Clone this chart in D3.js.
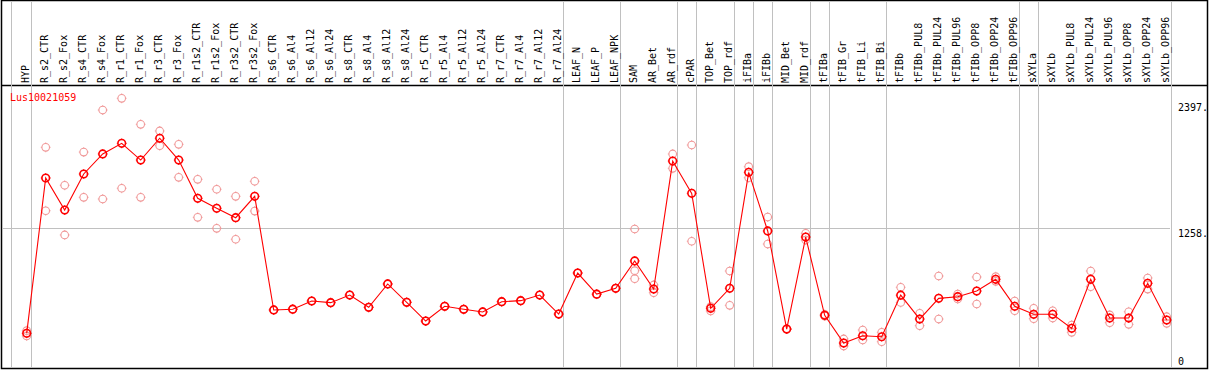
<!DOCTYPE html>
<html><head><meta charset="utf-8">
<script src="https://cdn.jsdelivr.net/npm/d3@7"></script>
<style>body{margin:0;background:#fff}svg{display:block}text{font-family:"DejaVu Sans Mono",monospace;}</style>
</head><body><svg id="c" width="1209" height="370"></svg>
<script>
const title = "Lus10021059";
const categories = ["HYP","R_s2_CTR","R_s2_Fox","R_s4_CTR","R_s4_Fox","R_r1_CTR","R_r1_Fox","R_r3_CTR","R_r3_Fox","R_r1s2_CTR","R_r1s2_Fox","R_r3s2_CTR","R_r3s2_Fox","R_s6_CTR","R_s6_Al4","R_s6_Al12","R_s6_Al24","R_s8_CTR","R_s8_Al4","R_s8_Al12","R_s8_Al24","R_r5_CTR","R_r5_Al4","R_r5_Al12","R_r5_Al24","R_r7_CTR","R_r7_Al4","R_r7_Al12","R_r7_Al24","LEAF_N","LEAF_P","LEAF_NPK","SAM","AR_Bet","AR_rdf","cPAR","TOP_Bet","TOP_rdf","iFIBa","iFIBb","MID_Bet","MID_rdf","tFIBa","tFIB_Gr","tFIB_Li","tFIB_Bi","tFIBb","tFIBb_PUL8","tFIBb_PUL24","tFIBb_PUL96","tFIBb_OPP8","tFIBb_OPP24","tFIBb_OPP96","sXYLa","sXYLb","sXYLb_PUL8","sXYLb_PUL24","sXYLb_PUL96","sXYLb_OPP8","sXYLb_OPP24","sXYLb_OPP96"];
const means = [309,1713,1423,1749,1930,2026,1875,2072,1875,1529,1439,1354,1547,520,527,601,586,655,544,755,589,420,553,526,502,595,604,655,483,854,663,716,963,709,1866,1574,535,716,1764,1234,347,1179,472,221,287,278,654,438,625,640,691,797,553,481,481,354,797,447,447,761,429];
const reps = [[333,285],[1990,1417],[1647,1198],[1947,1538],[2327,1523],[2433,1620],[2198,1538],[2138,2005],[2017,1719],[1701,1357],[1611,1258],[1547,1159],[1683,1414],[520,520],[527,527],[601,601],[586,586],[655,655],[544,544],[755,755],[589,589],[420,420],[553,553],[526,526],[502,502],[595,595],[604,604],[655,655],[483,483],[854,854],[663,663],[716,716],[1252,875,803],[746,676],[1930,1800],[2011,1141],[550,511],[872,562],[1815,1715],[1360,1116],[347,347],[1213,1152],[480,465],[258,194],[339,249],[318,233],[725,588],[490,378],[827,438],[664,619],[818,574],[821,779],[601,513],[535,441],[513,447],[384,318],[872,730],[475,405],[504,390],[809,709],[459,399]];
const separatorsAfter = ["HYP","R_r7_Al24","LEAF_NPK","AR_rdf","cPAR","TOP_rdf","iFIBa","iFIBb","MID_rdf","tFIBa","tFIB_Bi","tFIBb_OPP96","sXYLa","sXYLb_OPP96"];
const yTicks = [0,1258,2397];
const yTickLabels = ["0","1258.","2397."];
const gridTicks = [1258];

const svg = d3.select("#c");
const x = d3.scalePoint().domain(categories).range([26.7, 26.7 + 19*60]);
const y = d3.scaleLinear().domain([0, 2397]).range([367.5, 102.3]);

// frame
svg.append("rect").attr("x",1.5).attr("y",0.5).attr("width",1206).attr("height",368).attr("fill","none").attr("stroke","#000").attr("stroke-width",1.5);
svg.append("line").attr("x1",1).attr("x2",1208).attr("y1",85.5).attr("y2",85.5).attr("stroke","#000").attr("stroke-width",1.5);

// gridlines
svg.selectAll(".grid").data(gridTicks).enter().append("line")
  .attr("x1",2).attr("x2",1170).attr("y1",d=>Math.round(y(d))+0.5).attr("y2",d=>Math.round(y(d))+0.5)
  .attr("stroke","#c0c0c0").attr("stroke-width",1);

// vertical separators
const sepX = [x(categories[0]) - 16].concat(separatorsAfter.map(c => x(c) + 4));
svg.selectAll(".sep").data(sepX).enter().append("line")
  .attr("x1",d=>Math.round(d)+0.5).attr("x2",d=>Math.round(d)+0.5).attr("y1",1).attr("y2",368)
  .attr("stroke","#c0c0c0").attr("stroke-width",1);

// category labels
svg.selectAll(".lab").data(categories).enter().append("text")
  .attr("transform",d=>`translate(${x(d)+2.5},83) rotate(-90)`)
  .attr("font-size","10px").attr("fill","#000").text(d=>d);

// y tick labels
svg.selectAll(".yl").data(yTicks).enter().append("text")
  .attr("x",1178).attr("y",(d,i)=> d===0 ? 365 : y(d)+8.5)
  .attr("font-size","10px").attr("fill","#000").text((d,i)=>yTickLabels[i]);

// title
svg.append("text").attr("x",10).attr("y",100.5).attr("font-size","10px").attr("fill","#ff0000").text(title);

function marker(g, cx, cy, color, sw){
  g.append("circle").attr("cx",cx).attr("cy",cy).attr("r",3.8).attr("fill","none").attr("stroke",color).attr("stroke-width",sw);
  const t = [[0,-1],[0,1],[-1,0],[1,0]];
  t.forEach(([dx,dy])=>{
    g.append("line").attr("x1",cx+dx*3.8).attr("y1",cy+dy*3.8).attr("x2",cx+dx*4.9).attr("y2",cy+dy*4.9)
      .attr("stroke",color).attr("stroke-width",0.9);
  });
}

// replicates
const gR = svg.append("g");
reps.forEach((arr,i)=>{
  arr.forEach(v=> marker(gR, x(categories[i]), y(v), "#f09898", 1.1));
});

// mean line
const line = d3.line().x((d,i)=>x(categories[i])).y(d=>y(d));
svg.append("path").attr("d", line(means)).attr("fill","none").attr("stroke","#ff0000").attr("stroke-width",1.1);

// mean markers
const gM = svg.append("g");
means.forEach((v,i)=> marker(gM, x(categories[i]), y(v), "#ff0000", 1.6));
</script></body></html>
